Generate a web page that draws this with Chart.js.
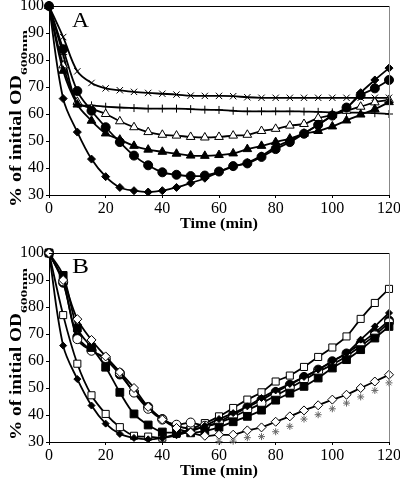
<!DOCTYPE html>
<html>
<head>
<meta charset="utf-8">
<script src="https://cdn.jsdelivr.net/npm/chart.js@4.4.0/dist/chart.umd.min.js"></script>
<style>
html, body { margin: 0; padding: 0; background: #fff; }
#wrap { position: relative; width: 400px; height: 481px; }
canvas { position: absolute; left: 0; }
</style>
</head>
<body>
<div id="wrap">
  <canvas id="chartA" width="400" height="240" style="top:0"></canvas>
  <canvas id="chartB" width="400" height="241" style="top:240px"></canvas>
</div>
<script>
"use strict";
// sampling times (min)
const times = [0, 5, 10, 15, 20, 25, 30, 35, 40, 45, 50, 55, 60, 65, 70, 75, 80, 85, 90, 95, 100, 105, 110, 115, 120];
const xTicks = [0, 20, 40, 60, 80, 100, 120];
const yTicks = [30, 40, 50, 60, 70, 80, 90, 100];

// panel A
const crossA = [100, 88.5, 75.8, 71.5, 69.5, 68.8, 68.2, 67.8, 67.5, 67.2, 66.8, 66.7, 66.7, 66.6, 66.2, 66, 66, 66, 66, 66, 66, 66, 66, 66, 66];
const plusA = [100, 82, 63.8, 63.2, 62.7, 62.4, 62.2, 62, 62, 62, 61.8, 61.6, 61.5, 61.2, 61, 61, 61, 61, 60.9, 60.8, 60.6, 60.5, 60.5, 60.3, 60];
const triOpenA = [100, 78, 64.5, 62, 60, 57.3, 55.1, 53.3, 52.3, 52, 51.5, 51.3, 51.5, 52, 52.3, 53.7, 54.5, 55.7, 56.3, 58.5, 59.6, 61.2, 62.7, 64.3, 65.2];
const triA = [100, 76, 63.5, 57.5, 52.8, 50.5, 48.2, 46.8, 46, 45.3, 44.6, 44.5, 44.8, 45.4, 47, 48.2, 49.6, 50.9, 52.7, 53.7, 55.4, 57.6, 59.8, 61.8, 64.4];
const circA = [100, 84, 68.5, 61.2, 55.1, 49.6, 44.6, 41, 38.4, 37.5, 37, 37.2, 38.7, 40.7, 41.7, 44.1, 47, 49.6, 52.7, 56, 59.4, 62.4, 67, 69.5, 72.6];
const diaA = [100, 65.7, 53.3, 43.3, 36.8, 32.8, 31.6, 31.1, 31.6, 32.8, 34.4, 36.2, 38.5, 40.5, 42, 44.5, 47.8, 50.2, 52.9, 56, 59.4, 62.2, 67.9, 72.6, 77];

// panel B
const sqOpenB = [100, 77, 59, 47.3, 40.4, 35.5, 32.3, 32, 31.6, 33, 34.8, 37, 39.5, 42.6, 45.7, 48.4, 52.4, 54.6, 57.8, 61.5, 65, 69.1, 75.6, 81.5, 86.7];
const sqB = [100, 91.7, 72.2, 65, 57.7, 48.4, 40.4, 36.3, 33.7, 33.5, 33.4, 34, 35.5, 37.5, 39.5, 41.8, 45.5, 48.1, 50.6, 53.7, 57.4, 60.5, 64.2, 68.5, 72.8];
const circOpenB = [100, 89.5, 68.1, 63.8, 61.1, 55.6, 48.3, 42.3, 38.3, 36.4, 37.2, 36, 37.2, 39.3, 41.8, 44.3, 47.2, 50, 53, 56, 58.7, 61.8, 65.5, 69.5, 74.3];
const circB = [100, 89, 69, 64, 60.5, 55, 48.5, 43, 38.5, 36, 35, 35.5, 37.5, 40.2, 42.8, 45.6, 48.5, 51.2, 54.1, 56.8, 59.9, 62.8, 66.5, 70.5, 75];
const diaOpenB = [100, 90, 75.5, 67.8, 61.7, 55.9, 50, 43, 38.3, 35.2, 33.5, 32.3, 32.7, 32.7, 34.3, 35.4, 37.5, 39.5, 41.7, 43.6, 45.7, 47.5, 50, 52.4, 54.9];
const diaB = [100, 65.7, 53.3, 43.5, 36.8, 33, 31.5, 31, 31.5, 32.5, 34, 36, 38.5, 40.7, 43.2, 46.3, 49.1, 51.5, 54.1, 56.8, 59.9, 63, 67.9, 72.8, 77.8];
const starB = [null, null, null, null, null, null, null, null, null, null, null, null, 30.2, 30.3, 31.6, 32, 33.8, 35.8, 38.5, 40.1, 42.3, 44.4, 46.7, 49.1, 51.9];

const SERIF = '"Liberation Serif", "Times New Roman", serif';

function pts(vals) {
    return times.map((t, i) => ({ x: t, y: vals[i] }));
}

function series(vals, style, radius, filled) {
    return {
        data: pts(vals),
        borderColor: "#000",
        borderWidth: 1.8,
        tension: 0.35,
        fill: false,
        pointStyle: style,
        pointRadius: radius,
        pointBackgroundColor: filled ? "#000" : "#fff",
        pointBorderColor: "#000",
        pointBorderWidth: 1,
        clip: false,
    };
}

// draws a string squeezed/stretched to a given width
function fitText(ctx, text, x, y, width) {
    const w = ctx.measureText(text).width;
    ctx.save();
    ctx.translate(x, y);
    ctx.scale(width / w, 1);
    ctx.fillText(text, 0, 0);
    ctx.restore();
}

const decorPlugin = {
    id: "decor",
    afterDraw(chart, args, o) {
        const ctx = chart.ctx;
        const a = chart.chartArea;
        ctx.save();
        // frame top / right
        ctx.lineWidth = 1;
        ctx.strokeStyle = "#000";
        ctx.beginPath();
        ctx.moveTo(a.left, a.top + 0.5);
        ctx.lineTo(a.right, a.top + 0.5);
        ctx.stroke();
        ctx.strokeStyle = "#888";
        ctx.beginPath();
        ctx.moveTo(a.right + 0.5, a.top);
        ctx.lineTo(a.right + 0.5, a.bottom);
        ctx.stroke();

        ctx.fillStyle = "#000";
        ctx.textAlign = "left";
        ctx.textBaseline = "alphabetic";
        // panel letter
        ctx.font = `${o.letterSize}px ${SERIF}`;
        fitText(ctx, o.letter, 72, o.letterBase, 17);

        // x title
        ctx.font = `bold 14px ${SERIF}`;
        fitText(ctx, "Time (min)", 180, a.bottom + 32.5, 78);

        // y title with subscript
        ctx.save();
        ctx.translate(0, o.yTitleBottom);
        ctx.rotate(-Math.PI / 2);
        ctx.font = `bold 16px ${SERIF}`;
        fitText(ctx, "% of initial OD", 0, 21, o.mainLen);
        ctx.font = `bold 9px ${SERIF}`;
        fitText(ctx, "600nm", o.mainLen, 26.5, 45);
        ctx.restore();
        ctx.restore();
    },
};

function makeChart(id, datasets, padTop, xHeight, decor) {
    const canvas = document.getElementById(id);
    return new Chart(canvas.getContext("2d"), {
        type: "line",
        data: { datasets },
        plugins: [decorPlugin],
        options: {
            responsive: false,
            animation: false,
            events: [],
            layout: { padding: { top: padTop, right: 11, left: 0, bottom: 0 } },
            plugins: {
                legend: { display: false },
                tooltip: { enabled: false },
                decor,
            },
            scales: {
                x: {
                    type: "linear",
                    min: 0,
                    max: 120,
                    afterBuildTicks: (s) => { s.ticks = xTicks.map(v => ({ value: v })); },
                    afterFit: (s) => { s.height = xHeight; s.paddingLeft = 0; s.paddingRight = 0; },
                    border: { color: "#000", width: 1 },
                    grid: { drawOnChartArea: false, color: "#000", tickLength: 3 },
                    ticks: { color: "#000", font: { family: SERIF, size: 16 }, padding: 1, maxRotation: 0 },
                },
                y: {
                    min: 30,
                    max: 100,
                    afterBuildTicks: (s) => { s.ticks = yTicks.map(v => ({ value: v })); },
                    afterFit: (s) => { s.width = 49; s.paddingTop = 0; s.paddingBottom = 0; },
                    border: { color: "#000", width: 1 },
                    grid: { drawOnChartArea: false, color: "#000", tickLength: 3 },
                    ticks: { color: "#000", font: { family: SERIF, size: 16 }, padding: 2 },
                },
            },
        },
    });
}

const starSet = {
    data: pts(starB),
    showLine: false,
    pointStyle: "star",
    pointRadius: 3.5,
    pointBorderColor: "#666",
    pointBackgroundColor: "#666",
    pointBorderWidth: 1,
    clip: false,
};

makeChart("chartA", [
    series(diaA, "rectRot", 4, true),
    series(circA, "circle", 4.5, true),
    series(triA, "triangle", 5, true),
    series(triOpenA, "triangle", 5, false),
    series(plusA, "cross", 4, false),
    series(crossA, "crossRot", 4.5, false),
], 4, 45, { letter: "A", letterSize: 20, letterBase: 27, yTitleBottom: 207, mainLen: 132 });

makeChart("chartB", [
    starSet,
    series(diaOpenB, "rectRot", 4.5, false),
    series(diaB, "rectRot", 3.5, true),
    series(sqB, "rect", 5.5, true),
    series(circOpenB, "circle", 4.5, false),
    series(sqOpenB, "rect", 5, false),
    series(circB, "circle", 4.5, true),
], 13, 39, { letter: "B", letterSize: 22, letterBase: 33, yTitleBottom: 200, mainLen: 127 });
</script>
</body>
</html>
